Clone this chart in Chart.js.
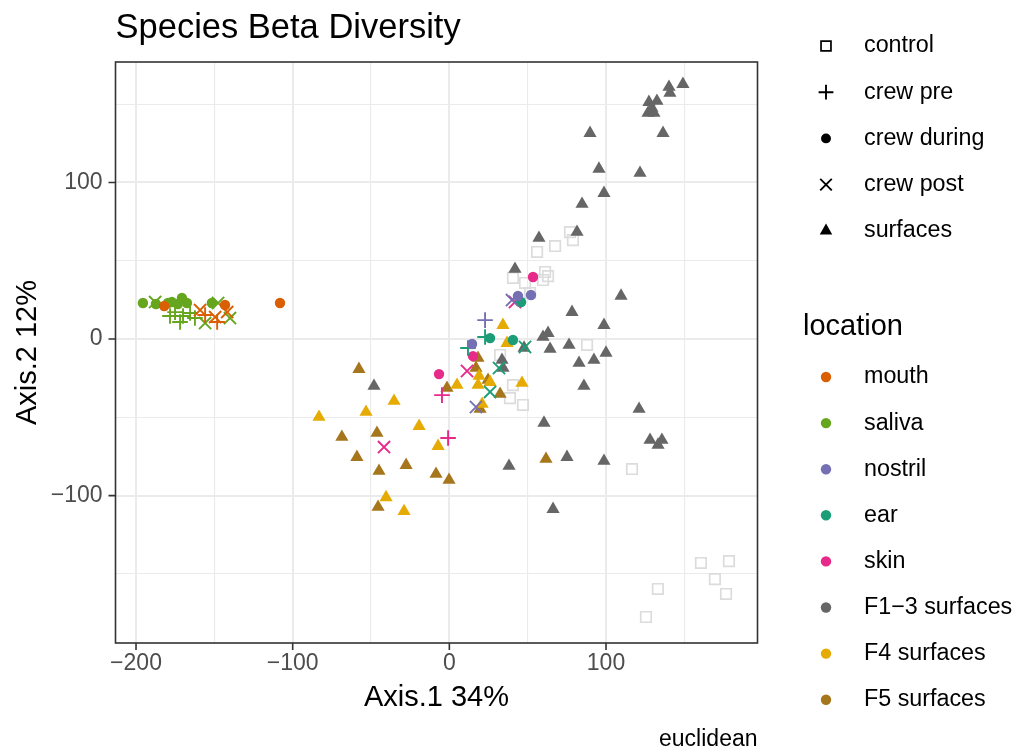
<!DOCTYPE html>
<html>
<head>
<meta charset="utf-8">
<script src="https://cdn.jsdelivr.net/npm/chart.js@4.4.1/dist/chart.umd.min.js"></script>
<style>
  html, body { margin: 0; padding: 0; background: #ffffff; }
  #wrap { position: relative; width: 1019px; height: 753px; }
</style>
</head>
<body>
<div id="wrap"><canvas id="chart" width="1019" height="753"></canvas></div>
<script>
// ---- PCoA ordination coordinates (Axis.1, Axis.2) ----
const controlSamples = [[77.0,68.3],[78.9,63.2],[67.5,59.4],[56.0,55.6],[61.1,42.8],[63.0,40.2],[59.8,37.7],[40.6,39.0],[48.3,35.8],[51.5,29.4],[87.9,-3.8],[32.4,-10.2],[40.6,-29.4],[38.7,-37.7],[47.0,-42.1],[116.6,-83.0],[160.6,-143.0],[178.5,-141.8],[169.5,-153.3],[176.6,-162.8],[133.1,-159.6],[125.5,-177.5]];

const f13Surfaces = [[149.1,162.8],[140.2,160.9],[140.8,157.1],[127.4,151.3],[132.5,152.0],[129.3,147.5],[126.8,144.3],[130.6,144.3],[136.4,131.5],[89.8,131.5],[95.5,108.6],[121.7,106.0],[98.7,93.2],[84.7,86.2],[81.5,68.3],[57.2,64.5],[41.9,44.7],[109.6,27.5],[78.3,17.2],[98.7,8.9],[59.8,1.3],[63.0,3.8],[64.3,-6.4],[76.4,-3.8],[82.8,-15.3],[92.3,-13.4],[100.0,-8.9],[85.9,-30.0],[121.1,-44.7],[60.4,-53.6],[128.1,-64.5],[135.7,-64.5],[133.2,-67.6],[75.1,-75.4],[98.7,-77.9],[38.1,-81.1],[66.2,-108.6],[-48.1,-30.0],[33.6,-13.4],[34.3,-18.5],[47.7,-5.7]];

const f4Surfaces = [[-83.2,-49.8],[-53.2,-46.6],[-35.3,-39.6],[-19.3,-55.6],[-7.2,-68.4],[-40.4,-101.1],[-28.9,-110.0],[4.9,-29.4],[34.2,8.9],[36.8,-2.6],[18.3,-29.4],[26.0,-27.5],[46.4,-28.1],[20.9,-41.5],[19.0,-23.6]];

const f5Surfaces = [[-57.7,-19.2],[-68.6,-62.6],[-46.2,-60.0],[-59.0,-75.4],[-44.9,-84.3],[-27.6,-80.5],[-8.5,-86.2],[-0.2,-90.0],[-45.5,-107.3],[-1.5,-31.3],[18.3,-12.1],[17.0,-18.5],[24.7,-26.2],[32.4,-35.1],[61.7,-76.6],[19.6,-44.7]];

const mouthPre = [[-155.9,15.3],[-148.2,10.9]];
const mouthDuring = [[-182.0,21.1],[-143.2,21.7],[-108.1,23.0]];
const mouthPost = [[-159.1,18.5],[-149.5,14.0],[-141.8,17.2]];

const salivaPre = [[-178.3,14.7],[-175.1,17.2],[-170.0,14.7],[-165.5,16.6],[-171.9,10.9],[-162.4,13.4]];
const salivaDuring = [[-195.6,23.0],[-187.3,22.4],[-179.6,23.0],[-177.1,23.6],[-173.3,22.4],[-170.7,26.2],[-167.5,23.0],[-151.6,23.0]];
const salivaPost = [[-187.8,23.6],[-155.9,10.2],[-147.6,23.0],[-140.0,13.4]];

const nostrilPre = [[22.8,12.1]];
const nostrilDuring = [[43.8,27.5],[52.1,28.1],[14.5,-3.2]];
const nostrilPost = [[40.0,24.9],[17.0,-43.4]];

const earPre = [[22.8,1.3],[11.9,-5.7]];
const earDuring = [[45.8,23.6],[26.0,0.6],[40.6,-0.6]];
const earPost = [[48.3,-5.1],[31.7,-18.5],[26.0,-33.8]];

const skinPre = [[-4.7,-35.8],[-0.8,-63.2]];
const skinDuring = [[53.4,39.6],[15.1,-10.9],[-6.6,-22.4]];
const skinPost = [[41.9,23.6],[11.3,-20.4],[-41.7,-69.0]];

// ---- categories, palette, axis ticks ----
const sampleTypes = ['control', 'crew pre', 'crew during', 'crew post', 'surfaces'];
const typeStyles = ['rect', 'cross', 'circle', 'crossRot', 'triangle'];
const locations = ['mouth', 'saliva', 'nostril', 'ear', 'skin', 'F1\u22123 surfaces', 'F4 surfaces', 'F5 surfaces'];
const locationColors = ['#D95F02', '#66A61E', '#7570B3', '#1B9E77', '#E7298A', '#666666', '#E6AB02', '#A6761D'];
const controlColor = '#DCDCDC';

const xMajorTicks = [-200, -100, 0, 100];
const xMinorTicks = [-150, -50, 50, 150];
const yMajorTicks = [-100, 0, 100];
const yMinorTicks = [-150, -50, 50, 150];

const FONT = '"Liberation Sans", Arial, Helvetica, sans-serif';

// marker geometry per style
const markerRadius = { rect: 7.4, cross: 7.8, circle: 5.2, crossRot: 8.6, triangle: 7.6 };
const markerStroke = { rect: 1.7, cross: 1.9, circle: 0, crossRot: 1.9, triangle: 0 };

function makeDataset(points, typeIdx, locIdx, order) {
  const style = typeStyles[typeIdx];
  const color = locIdx < 0 ? controlColor : locationColors[locIdx];
  const outlined = style === 'rect' || style === 'cross' || style === 'crossRot';
  return {
    label: (locIdx < 0 ? 'control' : locations[locIdx]) + ' / ' + sampleTypes[typeIdx],
    data: points.map(p => ({ x: p[0], y: p[1] })),
    pointStyle: style,
    pointRadius: markerRadius[style],
    pointHoverRadius: markerRadius[style],
    pointBackgroundColor: outlined ? 'rgba(0,0,0,0)' : color,
    pointBorderColor: color,
    pointBorderWidth: markerStroke[style],
    showLine: false,
    order: order
  };
}

const datasets = [
  makeDataset(controlSamples, 0, -1, 3),
  makeDataset(f13Surfaces, 4, 5, 2),
  makeDataset(f4Surfaces, 4, 6, 2),
  makeDataset(f5Surfaces, 4, 7, 2),
  makeDataset(mouthPre, 1, 0, 1),
  makeDataset(mouthDuring, 2, 0, 1),
  makeDataset(mouthPost, 3, 0, 1),
  makeDataset(salivaPre, 1, 1, 1),
  makeDataset(salivaDuring, 2, 1, 1),
  makeDataset(salivaPost, 3, 1, 1),
  makeDataset(nostrilPre, 1, 2, 1),
  makeDataset(nostrilDuring, 2, 2, 1),
  makeDataset(nostrilPost, 3, 2, 1),
  makeDataset(earPre, 1, 3, 1),
  makeDataset(earDuring, 2, 3, 1),
  makeDataset(earPost, 3, 3, 1),
  makeDataset(skinPre, 1, 4, 1),
  makeDataset(skinDuring, 2, 4, 1),
  makeDataset(skinPost, 3, 4, 1)
];

function fmtTick(v) {
  return v < 0 ? '\u2212' + Math.abs(v) : String(v);
}

function drawSymbol(ctx, style, x, y, color, scale) {
  const r = markerRadius[style] * (scale || 1);
  ctx.save();
  ctx.fillStyle = color;
  ctx.strokeStyle = color;
  ctx.lineWidth = markerStroke[style] || 1;
  ctx.beginPath();
  if (style === 'circle') {
    ctx.arc(x, y, r, 0, Math.PI * 2);
    ctx.fill();
  } else if (style === 'rect') {
    const h = r * Math.SQRT1_2;
    ctx.rect(x - h, y - h, 2 * h, 2 * h);
    ctx.stroke();
  } else if (style === 'cross') {
    ctx.moveTo(x, y - r); ctx.lineTo(x, y + r);
    ctx.moveTo(x - r, y); ctx.lineTo(x + r, y);
    ctx.stroke();
  } else if (style === 'crossRot') {
    const o = r * Math.SQRT1_2;
    ctx.moveTo(x - o, y - o); ctx.lineTo(x + o, y + o);
    ctx.moveTo(x - o, y + o); ctx.lineTo(x + o, y - o);
    ctx.stroke();
  } else if (style === 'triangle') {
    const a = 2 * Math.PI / 3;
    ctx.moveTo(x, y - r);
    ctx.lineTo(x + Math.sin(a) * r, y - Math.cos(a) * r);
    ctx.lineTo(x + Math.sin(2 * a) * r, y - Math.cos(2 * a) * r);
    ctx.closePath();
    ctx.fill();
  }
  ctx.restore();
}

// panel border, axis tick marks, title, caption and the two legends
const decorations = {
  id: 'decorations',
  afterDraw(chart) {
    const ctx = chart.ctx;
    const area = chart.chartArea;
    const xs = chart.scales.x, ys = chart.scales.y;
    ctx.save();

    // panel border
    ctx.strokeStyle = '#333333';
    ctx.lineWidth = 1.6;
    ctx.strokeRect(area.left, area.top, area.right - area.left, area.bottom - area.top);

    // tick marks
    ctx.beginPath();
    xMajorTicks.forEach(v => {
      const px = xs.getPixelForValue(v);
      ctx.moveTo(px, area.bottom); ctx.lineTo(px, area.bottom + 7);
    });
    yMajorTicks.forEach(v => {
      const py = ys.getPixelForValue(v);
      ctx.moveTo(area.left, py); ctx.lineTo(area.left - 7, py);
    });
    ctx.stroke();

    // title
    ctx.fillStyle = '#000000';
    ctx.textAlign = 'left';
    ctx.textBaseline = 'alphabetic';
    ctx.font = '34.5px ' + FONT;
    ctx.fillText('Species Beta Diversity', area.left, 38);

    // caption
    ctx.textAlign = 'right';
    ctx.font = '23px ' + FONT;
    ctx.fillText('euclidean', area.right, 746);

    // shape legend
    const keyX = 826, textX = 864;
    ctx.textAlign = 'left';
    ctx.textBaseline = 'middle';
    ctx.font = '23.3px ' + FONT;
    sampleTypes.forEach((t, i) => {
      const cy = 46 + i * 46.2;
      drawSymbol(ctx, typeStyles[i], keyX, cy, '#000000', 0.95);
      ctx.fillStyle = '#000000';
      ctx.fillText(t, textX, cy);
    });

    // colour legend
    ctx.font = '29px ' + FONT;
    ctx.fillText('location', 803, 327);
    ctx.font = '23.3px ' + FONT;
    locations.forEach((loc, i) => {
      const cy = 377 + i * 46.1;
      drawSymbol(ctx, 'circle', keyX, cy, locationColors[i]);
      ctx.fillStyle = '#000000';
      ctx.fillText(loc, textX, cy);
    });

    ctx.restore();
  }
};

function gridStyle(majors) {
  return {
    drawTicks: false,
    color: '#EBEBEB',
    lineWidth: c => (c.tick && majors.includes(c.tick.value)) ? 2 : 1.1
  };
}

new Chart(document.getElementById('chart'), {
  type: 'scatter',
  data: { datasets: datasets },
  options: {
    responsive: false,
    devicePixelRatio: 1,
    animation: false,
    events: [],
    layout: { padding: { top: 62, right: 261.5, left: 0, bottom: 0 } },
    plugins: {
      legend: { display: false },
      tooltip: { enabled: false },
      title: { display: false }
    },
    scales: {
      x: {
        type: 'linear',
        min: -213.1,
        max: 196.7,
        afterBuildTicks: s => { s.ticks = xMajorTicks.concat(xMinorTicks).sort((a, b) => a - b).map(v => ({ value: v })); },
        afterFit: s => { s.height = 110; },
        grid: gridStyle(xMajorTicks),
        border: { display: false },
        ticks: {
          autoSkip: false,
          maxRotation: 0,
          padding: 7,
          color: '#4D4D4D',
          font: { family: FONT, size: 23 },
          callback: v => xMajorTicks.includes(v) ? fmtTick(v) : ''
        },
        title: {
          display: true,
          text: 'Axis.1 34%',
          color: '#000000',
          font: { family: FONT, size: 29 },
          padding: { top: 0, bottom: 37.6 }
        }
      },
      y: {
        type: 'linear',
        min: -194.1,
        max: 176.9,
        afterBuildTicks: s => { s.ticks = yMajorTicks.concat(yMinorTicks).sort((a, b) => a - b).map(v => ({ value: v })); },
        afterFit: s => { s.width = 115.5; },
        grid: gridStyle(yMajorTicks),
        border: { display: false },
        ticks: {
          autoSkip: false,
          padding: 13,
          color: '#4D4D4D',
          font: { family: FONT, size: 23 },
          callback: v => yMajorTicks.includes(v) ? fmtTick(v) : ''
        },
        title: {
          display: true,
          text: 'Axis.2 12%',
          color: '#000000',
          font: { family: FONT, size: 29 },
          padding: { top: 10.5, bottom: 0 }
        }
      }
    }
  },
  plugins: [decorations]
});
</script>
</body>
</html>
